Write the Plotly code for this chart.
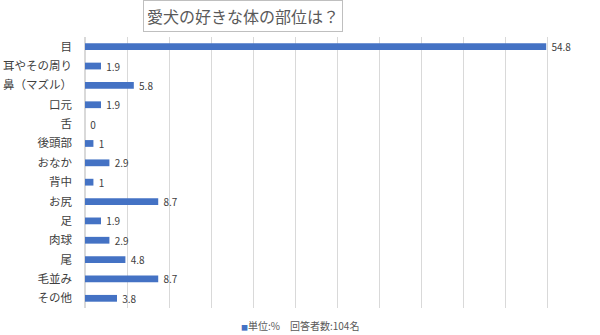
import plotly.graph_objects as go

categories = ["目", "耳やその周り", "鼻（マズル）", "口元", "舌", "後頭部", "おなか",
              "背中", "お尻", "足", "肉球", "尾", "毛並み", "その他"]
values = [54.8, 1.9, 5.8, 1.9, 0, 1, 2.9, 1, 8.7, 1.9, 2.9, 4.8, 8.7, 3.8]
value_labels = ["54.8", "1.9", "5.8", "1.9", "0", "1", "2.9", "1", "8.7", "1.9", "2.9", "4.8", "8.7", "3.8"]
title_text = "愛犬の好きな体の部位は？"
legend_text = "単位:%　回答者数:104名"

FONT = "Noto Sans CJK JP"
BAR = "#4472C4"

fig = go.Figure()
fig.add_trace(go.Bar(
    y=categories, x=values, orientation="h",
    marker=dict(color=BAR, line=dict(width=0)),
    width=0.35,
    text=["\u00a0" + t for t in value_labels], textposition="outside", constraintext="none",
    textfont=dict(family=FONT, size=10, color="#404040"),
    cliponaxis=False,
    name=legend_text, showlegend=False,
))

fig.update_layout(
    width=600, height=335,
    margin=dict(l=85, r=10, t=37, b=27),
    paper_bgcolor="white", plot_bgcolor="white",
    font=dict(family=FONT),
    xaxis=dict(range=[0, 60], dtick=5, showticklabels=False, showgrid=True,
               gridcolor="#d9d9d9", gridwidth=1, zeroline=True, zerolinecolor="#d9d9d9",
               showline=False, fixedrange=True, automargin=False),
    yaxis=dict(autorange="reversed", showgrid=False, showline=False,
               tickfont=dict(family=FONT, size=11.5, color="#404040"),
               ticklabelstandoff=12, fixedrange=True, automargin=False),
)

fig.add_annotation(
    xref="paper", yref="paper", x=0.312, y=1.076, xanchor="center", yanchor="middle",
    text=title_text, showarrow=False,
    font=dict(family=FONT, size=16, color="#595959"),
    bordercolor="#bfbfbf", borderwidth=1, borderpad=3, bgcolor="white",
)

fig.add_annotation(
    xref="paper", yref="paper", x=0.305, y=-0.066, xanchor="left", yanchor="middle",
    text=f"<span style='color:{BAR};font-size:7px'>■</span>{legend_text}",
    showarrow=False,
    font=dict(family=FONT, size=10, color="#595959"),
)

fig.write_html("out.html")
